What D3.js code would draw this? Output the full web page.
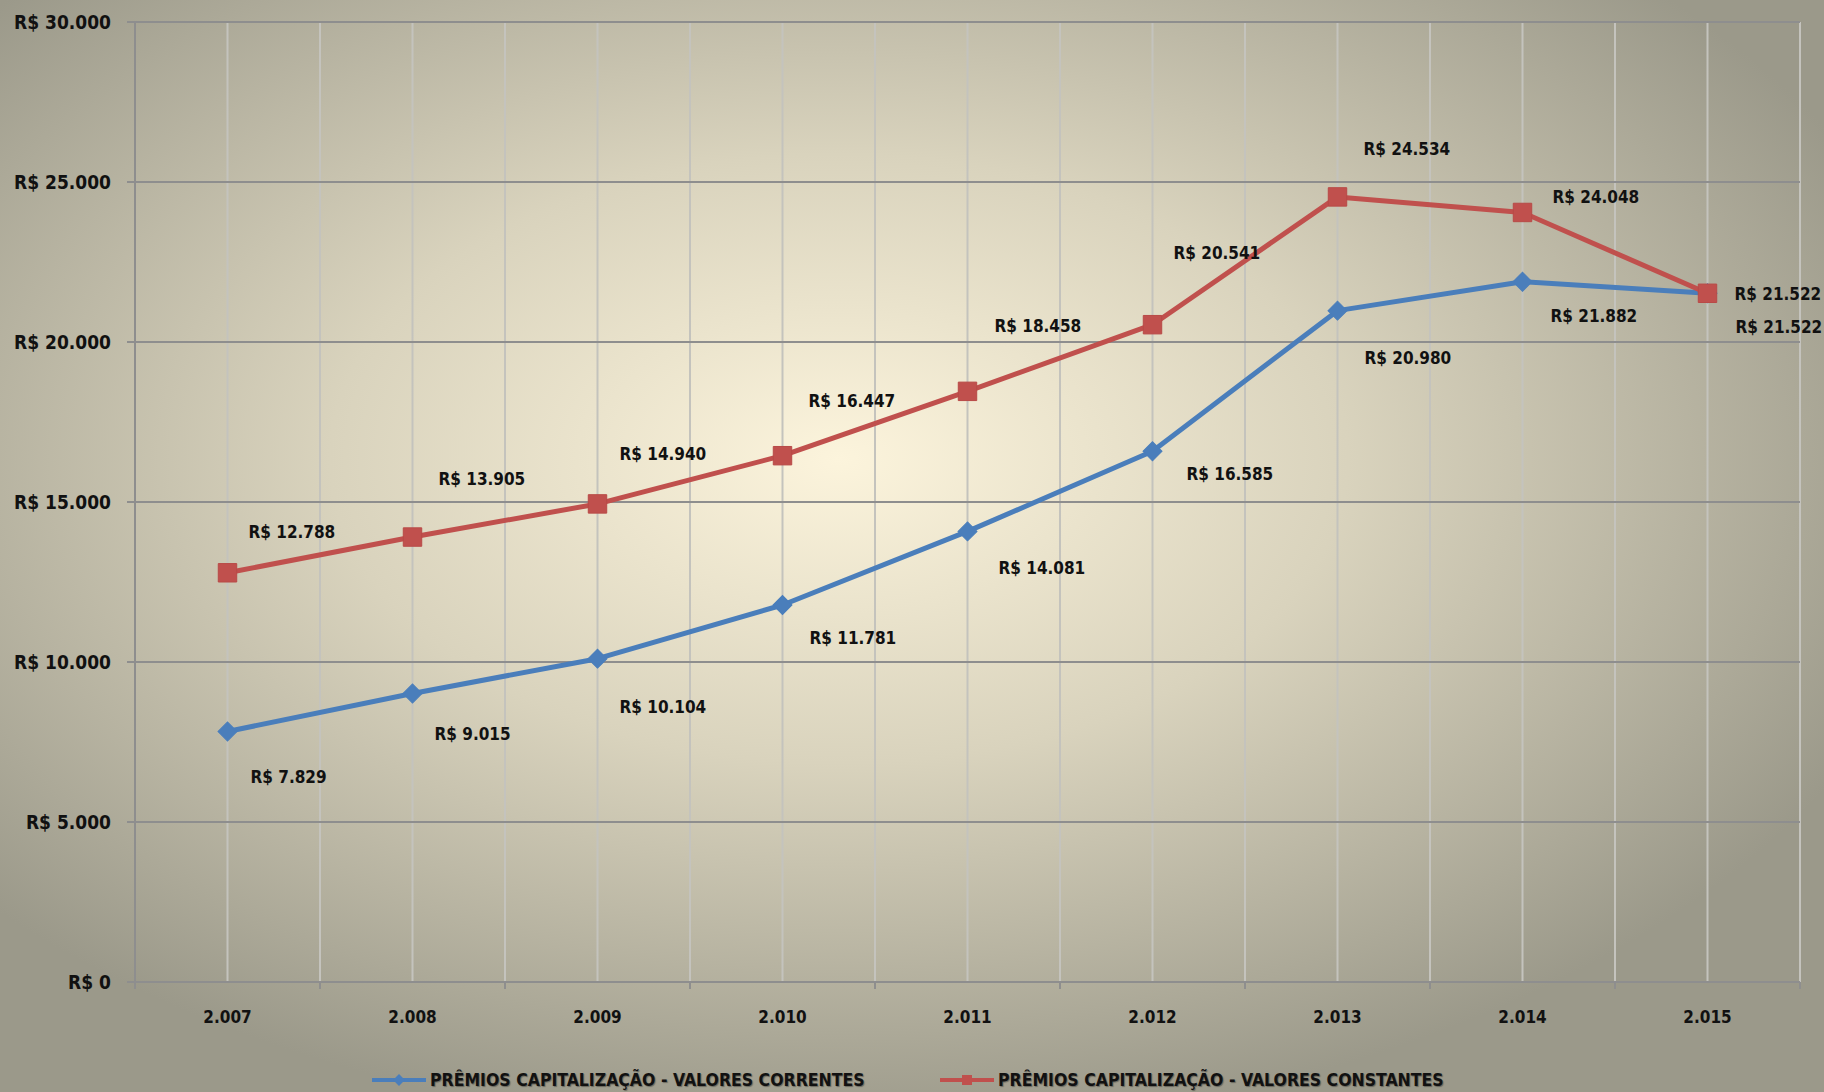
<!DOCTYPE html>
<html>
<head>
<meta charset="utf-8">
<script src="https://cdn.jsdelivr.net/npm/d3@7"></script>
<style>
  html, body { margin: 0; padding: 0; }
  body { width: 1824px; height: 1092px; overflow: hidden; }
  svg text { font-family: "DejaVu Sans Condensed", "Liberation Sans Narrow", sans-serif; font-weight: bold; fill: #111; }
</style>
</head>
<body>
<svg id="chart"></svg>
<script>
var anos = ["2.007","2.008","2.009","2.010","2.011","2.012","2.013","2.014","2.015"];
var correntes = [7829, 9015, 10104, 11781, 14081, 16585, 20980, 21882, 21522];
var constantes = [12788, 13905, 14940, 16447, 18458, 20541, 24534, 24048, 21522];
var yTicks = [0, 5000, 10000, 15000, 20000, 25000, 30000];
var nomes = ["PRÊMIOS CAPITALIZAÇÃO - VALORES CORRENTES", "PRÊMIOS CAPITALIZAÇÃO - VALORES CONSTANTES"];

// label offsets from each point (pixels), as placed in the original
var offCorr = [[23,45],[22,40],[22,48],[27,33],[31,36],[34,23],[27,47],[28,34],[28,34]];
var offCons = [[21,-41],[26,-58],[22,-50],[26,-55],[27,-65],[21,-72],[26,-48],[30,-16],[27,1]];

var width = 1824, height = 1092;
var pLeft = 135, pRight = 1800, pTop = 22, pBottom = 982;

var svg = d3.select("#chart").attr("width", width).attr("height", height);

var defs = svg.append("defs");
var grad = defs.append("radialGradient").attr("id", "bg")
  .attr("cx", "0.46").attr("cy", "0.42").attr("r", "0.62");
grad.append("stop").attr("offset", "0%").attr("stop-color", "#fcf4dc");
grad.append("stop").attr("offset", "45%").attr("stop-color", "#d9d3bd");
grad.append("stop").attr("offset", "100%").attr("stop-color", "#9b998a");
svg.append("rect").attr("width", width).attr("height", height).attr("fill", "url(#bg)");

var x = d3.scaleBand().domain(anos).range([pLeft, pRight]).padding(0);
var y = d3.scaleLinear().domain([0, 30000]).range([pBottom, pTop]);
var fmt = function(v) { return "R$ " + d3.format(",")(v).replace(/,/g, "."); };

// vertical gridlines (band edges and centers)
var g = svg.append("g");
var vx = [];
anos.forEach(function(a) { vx.push(x(a)); vx.push(x(a) + x.bandwidth() / 2); });
vx.push(pRight);
g.selectAll("line.v").data(vx).enter().append("line")
  .attr("x1", function(d) { return d; }).attr("x2", function(d) { return d; })
  .attr("y1", pTop).attr("y2", pBottom)
  .attr("stroke", "#c4c3bd").attr("stroke-width", 2);

// horizontal gridlines
g.selectAll("line.h").data(yTicks).enter().append("line")
  .attr("x1", pLeft - 8).attr("x2", pRight)
  .attr("y1", function(d) { return y(d); }).attr("y2", function(d) { return y(d); })
  .attr("stroke", "#8e8e8e").attr("stroke-width", 2);

// y axis
svg.append("line").attr("x1", pLeft).attr("x2", pLeft).attr("y1", pTop).attr("y2", pBottom + 7)
  .attr("stroke", "#8e8e8e").attr("stroke-width", 2);
svg.selectAll("text.yt").data(yTicks).enter().append("text")
  .attr("x", 111).attr("y", function(d) { return y(d); })
  .attr("dy", "0.36em").attr("text-anchor", "end").attr("font-size", 19)
  .text(function(d) { return d === 0 ? "R$ 0" : fmt(d); });

// x axis ticks and labels
var edges = anos.map(function(a) { return x(a); }).concat([pRight]);
svg.selectAll("line.xt").data(edges).enter().append("line")
  .attr("x1", function(d) { return d; }).attr("x2", function(d) { return d; })
  .attr("y1", pBottom).attr("y2", pBottom + 7)
  .attr("stroke", "#8e8e8e").attr("stroke-width", 2);
svg.selectAll("text.xl").data(anos).enter().append("text")
  .attr("x", function(d) { return x(d) + x.bandwidth() / 2; }).attr("y", 1017)
  .attr("dy", "0.36em").attr("text-anchor", "middle").attr("font-size", 17)
  .text(function(d) { return d; });

var cx = function(d, i) { return x(anos[i]) + x.bandwidth() / 2; };
var line = d3.line().x(function(d, i) { return cx(d, i); }).y(function(d) { return y(d); });

var series = [
  { vals: correntes, color: "#4a7ebb", off: offCorr, marker: "diamond" },
  { vals: constantes, color: "#c0504d", off: offCons, marker: "square" }
];

series.forEach(function(s) {
  svg.append("path").datum(s.vals).attr("d", line)
    .attr("fill", "none").attr("stroke", s.color).attr("stroke-width", 5)
    .attr("stroke-linejoin", "round");
});

series.forEach(function(s) {
  var sym = s.marker === "diamond"
    ? d3.symbol().type(d3.symbolSquare).size(180)
    : d3.symbol().type(d3.symbolSquare).size(340);
  svg.selectAll(null).data(s.vals).enter().append("path")
    .attr("d", sym)
    .attr("transform", function(d, i) {
      return "translate(" + cx(d, i) + "," + y(d) + ")" + (s.marker === "diamond" ? " rotate(45)" : "");
    })
    .attr("fill", s.color).attr("stroke", s.marker === "square" ? "#b84a47" : s.color).attr("stroke-width", 1);
  svg.selectAll(null).data(s.vals).enter().append("text")
    .attr("x", function(d, i) { return cx(d, i) + s.off[i][0]; })
    .attr("y", function(d, i) { return y(d) + s.off[i][1]; })
    .attr("dy", "0.36em").attr("font-size", 17)
    .text(function(d) { return fmt(d); });
});

// legend
var legX = [372, 940];
series.forEach(function(s, i) {
  var lg = svg.append("g").attr("transform", "translate(" + legX[i] + ",1080)");
  lg.append("line").attr("x1", 0).attr("x2", 54).attr("y1", 0).attr("y2", 0)
    .attr("stroke", s.color).attr("stroke-width", 4);
  lg.append("path")
    .attr("d", d3.symbol().type(d3.symbolSquare).size(i === 0 ? 70 : 100))
    .attr("transform", "translate(27,0)" + (i === 0 ? " rotate(45)" : ""))
    .attr("fill", s.color);
  lg.append("text").attr("x", 58).attr("y", 0).attr("dy", "0.36em")
    .attr("font-size", 17.5)
    .style("text-shadow", "1px 1px 1px rgba(0,0,0,0.35)")
    .text(nomes[i]);
});
</script>
</body>
</html>
